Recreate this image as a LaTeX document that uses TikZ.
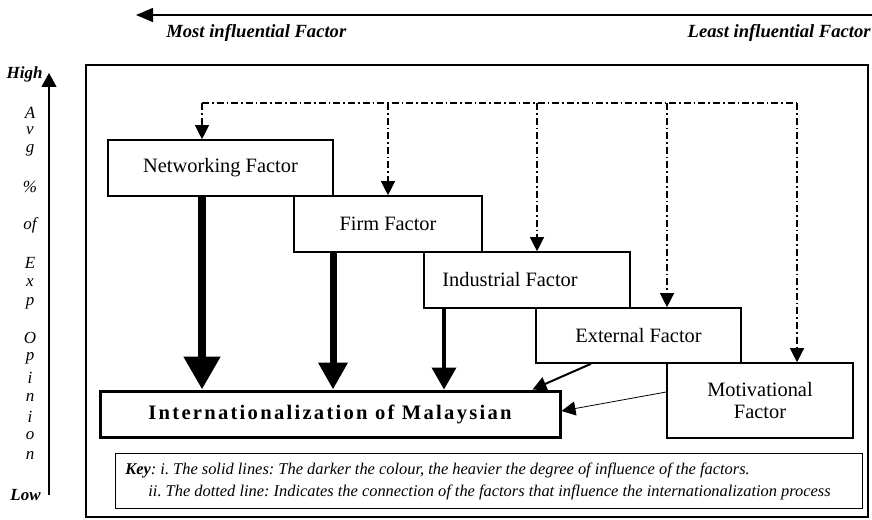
\documentclass[tikz,border=0pt]{standalone}
\usepackage{fontspec}
\setmainfont{Liberation Serif}
\newfontfamily\spacedbf[LetterSpace=11]{Liberation Serif}
\usetikzlibrary{arrows.meta,calc}
\frenchspacing
\begin{document}
\begin{tikzpicture}[x=0.5pt,y=-0.5pt,
  fbox/.style={draw, line width=0.8pt, inner sep=0pt, align=center, font=\fontsize{10.2}{11}\selectfont},
  dd/.style={line width=0.6pt, dash pattern=on 3.5pt off 1.5pt on 0.8pt off 1.5pt},
  ddarrow/.style={dd, -{Triangle[length=7pt,width=7pt]}},
  axlabel/.style={font=\bfseries\itshape\fontsize{9.3}{11}\selectfont, inner sep=0pt},
  colletter/.style={font=\itshape\fontsize{8.5}{9}\selectfont, inner sep=0pt},
  hilo/.style={font=\bfseries\itshape\fontsize{8.5}{10}\selectfont, inner sep=0pt},
  keytext/.style={font=\itshape\fontsize{8.2}{9}\selectfont, inner sep=0pt, anchor=west}
]
\useasboundingbox (0,0) rectangle (872,519);

% top axis
\coordinate (tr) at (872,15);
\coordinate (tl) at (136,15);
\draw[line width=0.75pt, -{Triangle[length=8.5pt,width=7pt]}] (tr) -- (tl);
\node[axlabel, anchor=west] (most) at (166,33) {Most influential Factor};
\node[axlabel, anchor=east] (least) at (871,33) {Least influential Factor};

% left axis
\coordinate (vb) at (49,495);
\coordinate (vt) at (49,73);
\draw[line width=0.6pt, -{Triangle[length=7pt,width=7.5pt]}] (vb) -- (vt);
\node[hilo, anchor=east] (high) at (43,74) {High};
\node[hilo, anchor=east] (low) at (41,495) {Low};
\foreach \t/\yy [count=\i] in {A/113, v/131, g/150, \%/187, of/225, E/263, x/283, p/303, O/338, p/358, i/378, n/397, i/417, o/436, n/455}
  \node[colletter] (c\i) at (30,\yy) {\t};

% frame
\draw[line width=1pt] (86,65) rectangle (868,517);

% factor boxes
\node[fbox, minimum width=112.5pt, minimum height=28pt] (net) at (220.5,168) {Networking Factor};
\node[fbox, minimum width=94pt, minimum height=28pt] (firm) at (388,224) {Firm Factor};
\node[fbox, minimum width=103pt, minimum height=28pt] (ind) at (527,280) {\hspace*{-17pt}Industrial Factor};
\node[fbox, minimum width=102.5pt, minimum height=27.5pt] (ext) at (638.5,335.5) {External Factor};
\node[fbox, minimum width=93pt, minimum height=37.5pt] (mot) at (760,400.5) {Motivational\\Factor};
\node[draw, line width=1.5pt, inner sep=0pt, minimum width=230pt, minimum height=23pt,
      font=\spacedbf\bfseries\fontsize{10.3}{11}\selectfont] (intl) at (330,414) {Internationalization of Malaysian};

% dash-dot connections
\coordinate (d1) at (202,103);
\coordinate (d2) at (388,103);
\coordinate (d3) at (537,103);
\coordinate (d4) at (667,103);
\coordinate (d5) at (797,103);
\draw[dd] (d1) -- (d5);
\draw[ddarrow] (d1) -- (d1 |- net.north);
\draw[ddarrow] (d2) -- (d2 |- firm.north);
\draw[ddarrow] (d3) -- (d3 |- ind.north);
\draw[ddarrow] (d4) -- (d4 |- ext.north);
\draw[ddarrow] (d5) -- (d5 |- mot.north);

% influence arrows
\coordinate (a1) at (202,196);
\coordinate (a2) at (333,252);
\coordinate (a3) at (444,308);
\draw[line width=4pt, -{Triangle[length=16.5pt,width=17.5pt]}] (a1 |- net.south) -- (a1 |- intl.north);
\draw[line width=3.5pt, -{Triangle[length=13.5pt,width=14pt]}] (a2 |- firm.south) -- (a2 |- intl.north);
\draw[line width=2pt, -{Triangle[length=11pt,width=12pt]}] (a3 |- ind.south) -- (a3 |- intl.north);
\draw[line width=1pt, -{Triangle[length=7pt,width=7pt]}] ([xshift=-23.75pt]ext.south) -- ([xshift=-14.5pt]intl.north east);
\draw[line width=0.4pt, -{Triangle[length=7pt,width=7pt]}] ([yshift=4.25pt]mot.west) -- ([yshift=1.5pt]intl.east);

% key
\node[draw, line width=0.5pt, minimum width=373.5pt, minimum height=27.5pt, inner sep=0pt] (key) at (488.5,480.5) {};
\node[keytext] (k1) at (125,470) {\textbf{Key}: i. The solid lines: The darker the colour, the heavier the degree of influence of the factors.};
\node[keytext] (k2) at (148,492) {ii. The dotted line: Indicates the connection of the factors that influence the internationalization process};
\end{tikzpicture}
\end{document}
